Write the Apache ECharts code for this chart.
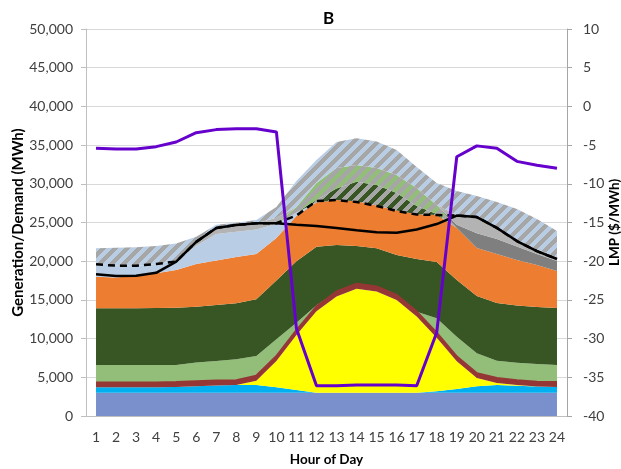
<!DOCTYPE html>
<html>
<head>
<meta charset="utf-8">
<script src="https://cdn.jsdelivr.net/npm/echarts@6/dist/echarts.min.js"></script>
<style>
  html, body { margin: 0; padding: 0; background: #fff; }
  #chart { width: 621px; height: 469px; }
</style>
</head>
<body>
<div id="chart"></div>
<script>
// Hour of day
const hours = ['1','2','3','4','5','6','7','8','9','10','11','12','13','14','15','16','17','18','19','20','21','22','23','24'];

// Generation by source (MWh), stacked bottom to top
const nuclear = [3000,3000,3000,3000,3000,3000,3000,3000,3000,3000,3000,3000,3000,3000,3000,3000,3000,3000,3000,3000,3000,3000,3000,3000];
const hydro = [700,700,700,700,750,850,950,1000,1000,700,350,0,0,0,0,0,0,200,500,850,1000,900,800,750];
const solar = [0,0,0,0,0,0,0,0,570,3400,7100,10520,12450,13450,13100,12000,9870,6900,3560,1050,270,100,0,0];
const geothermal = [600,600,600,600,600,600,600,600,600,600,600,600,600,600,600,600,600,600,600,600,600,600,600,600];
const wind = [2290,2290,2290,2290,2240,2450,2550,2730,2580,2200,1010,180,0,0,0,0,0,1920,2590,2600,2280,2290,2320,2240];
const baseload = [7320,7320,7340,7360,7390,7230,7250,7230,7330,7620,7940,7570,6040,4910,4970,5200,6810,7280,7320,7400,7450,7390,7360,7360];
const gas = [4090,3990,4220,4500,4880,5510,5740,5980,5850,5480,5840,5730,5810,5790,5530,5750,5800,6070,6730,6200,6330,5870,5420,4780];
const imports = [1600,1520,1270,1190,1140,2360,3410,3260,3170,1800,460,0,0,0,0,0,0,0,0,0,0,0,0,0];
const baseloadSurplus = [0,0,0,0,0,0,0,0,0,0,0,300,1490,2520,2640,2250,1050,130,0,0,0,0,0,0];
const windSurplus = [0,0,0,0,0,0,0,0,0,0,700,2200,2650,2160,2200,2340,2330,1160,0,0,0,0,0,0];
const storageDischarge = [0,0,0,0,0,0,0,0,0,0,0,0,0,0,0,0,0,0,400,1900,1940,1750,1430,1290];
const peakers = [0,0,0,0,0,500,900,900,800,800,0,0,0,0,0,0,0,0,1270,2100,1530,800,570,480];
const importSurplus = [2060,2330,2380,2310,2300,650,300,270,420,1400,3360,2970,3360,3450,3430,3230,2710,2840,3100,2720,3250,4040,3950,3400];

// Demand lines (MWh)
const demand = [18300,18100,18130,18500,19950,22500,24300,24680,24900,24900,24700,24550,24300,24000,23750,23680,24100,24800,25900,25700,24300,22600,21300,20280];
const demandWithExports = [19600,19420,19420,19640,19950,22500,24300,24680,24900,24900,25900,27780,27900,27650,27130,26490,26030,25970,25900,25700,24300,22600,21300,20280];

// Locational marginal price ($/MWh)
const lmp = [-5.4,-5.5,-5.5,-5.2,-4.6,-3.4,-3.0,-2.9,-2.9,-3.3,-28.7,-36.1,-36.1,-36.0,-36.0,-36.0,-36.1,-29.2,-6.5,-5.1,-5.4,-7.1,-7.6,-8.0];

const FONT = 'Lato, "Open Sans", sans-serif';

// Diagonal hatch tile used for surplus layers
function hatch(bg, fg) {
  const n = 12, w = 6;
  const c = document.createElement('canvas');
  c.width = n; c.height = n;
  const ctx = c.getContext('2d');
  ctx.fillStyle = bg;
  ctx.fillRect(0, 0, n, n);
  ctx.fillStyle = fg;
  for (let y = 0; y < n; y++) {
    for (let x = 0; x < n; x++) {
      if (((x + y) % n) < w) ctx.fillRect(x, y, 1, 1);
    }
  }
  return { image: c, repeat: 'repeat' };
}

function layer(name, data, color, extra) {
  return Object.assign({
    name: name,
    type: 'line',
    stack: 'supply',
    data: data,
    symbol: 'none',
    lineStyle: { width: 0 },
    areaStyle: { color: color, opacity: 1 },
    emphasis: { disabled: true },
    silent: true
  }, extra || {});
}

const chart = echarts.init(document.getElementById('chart'), null, { renderer: 'canvas' });

chart.setOption({
  animation: false,
  backgroundColor: '#ffffff',
  title: {
    text: 'B',
    left: 318,
    top: 5,
    textStyle: { fontFamily: FONT, fontWeight: 'bold', fontSize: 17, color: '#000' }
  },
  grid: { left: 86, right: 54, top: 29, bottom: 53, containLabel: false, outerBoundsMode: 'none' },
  xAxis: {
    type: 'category',
    data: hours,
    boundaryGap: true,
    axisLine: { lineStyle: { color: '#BFBFBF', width: 1 } },
    axisTick: { show: false },
    axisLabel: { interval: 0, margin: 14, fontSize: 14, color: '#404040', fontFamily: FONT, hideOverlap: false },
    name: 'Hour of Day',
    nameLocation: 'middle',
    nameGap: 37,
    nameMoveOverlap: false,
    nameTextStyle: { fontFamily: FONT, fontWeight: 'bold', fontSize: 13.5, color: '#000' }
  },
  yAxis: [
    {
      type: 'value',
      min: 0, max: 50000, interval: 5000,
      axisLine: { show: true, lineStyle: { color: '#BFBFBF' } },
      axisTick: { show: true, length: 5, lineStyle: { color: '#BFBFBF' } },
      splitLine: { lineStyle: { color: '#D9D9D9', width: 1 } },
      axisLabel: {
        margin: 13, fontSize: 14, color: '#404040', fontFamily: FONT,
        formatter: v => v.toLocaleString('en-US')
      },
      name: 'Generation/Demand (MWh)',
      nameLocation: 'middle',
      nameGap: 60,
      nameMoveOverlap: false,
      nameTextStyle: { fontFamily: FONT, fontWeight: 'bold', fontSize: 15, color: '#000' }
    },
    {
      type: 'value',
      position: 'right',
      min: -40, max: 10, interval: 5,
      axisLine: { show: true, lineStyle: { color: '#A6A6A6' } },
      axisTick: { show: true, length: 5, lineStyle: { color: '#A6A6A6' } },
      splitLine: { show: false },
      axisLabel: { margin: 16, fontSize: 14, color: '#404040', fontFamily: FONT },
      name: 'LMP ($/MWh)',
      nameLocation: 'middle',
      nameRotate: 90,
      nameGap: 41,
      nameMoveOverlap: false,
      nameTextStyle: { fontFamily: FONT, fontWeight: 'bold', fontSize: 13.5, color: '#000' }
    }
  ],
  series: [
    layer('Nuclear', nuclear, '#7A90CD'),
    layer('Hydro', hydro, '#00B0F0'),
    layer('Solar', solar, '#FFFF00'),
    layer('Geothermal', geothermal, '#953735', { z: 3, lineStyle: { width: 2.5, color: '#953735' } }),
    layer('Wind', wind, '#93BE7A'),
    layer('Baseload', baseload, '#375623'),
    layer('Gas', gas, '#ED7D31'),
    layer('Imports', imports, '#B9CDE5'),
    layer('Baseload surplus', baseloadSurplus, hatch('#375623', '#A6A6A6')),
    layer('Wind surplus', windSurplus, hatch('#93BE7A', '#A6A6A6')),
    layer('Storage discharge', storageDischarge, '#7F7F7F'),
    layer('Peakers', peakers, '#B3B3B3'),
    layer('Import surplus', importSurplus, hatch('#B9CDE5', '#A6A6A6')),
    {
      name: 'Demand + exports',
      type: 'line',
      data: demandWithExports,
      symbol: 'none',
      z: 4,
      lineStyle: { color: '#000', width: 2.5, type: [7, 5] },
      silent: true
    },
    {
      name: 'Demand',
      type: 'line',
      data: demand,
      symbol: 'none',
      z: 4,
      lineStyle: { color: '#000', width: 2.5 },
      silent: true
    },
    {
      name: 'LMP',
      type: 'line',
      yAxisIndex: 1,
      data: lmp,
      symbol: 'none',
      z: 5,
      lineStyle: { color: '#6600CC', width: 3 },
      silent: true
    }
  ]
});
</script>
</body>
</html>
